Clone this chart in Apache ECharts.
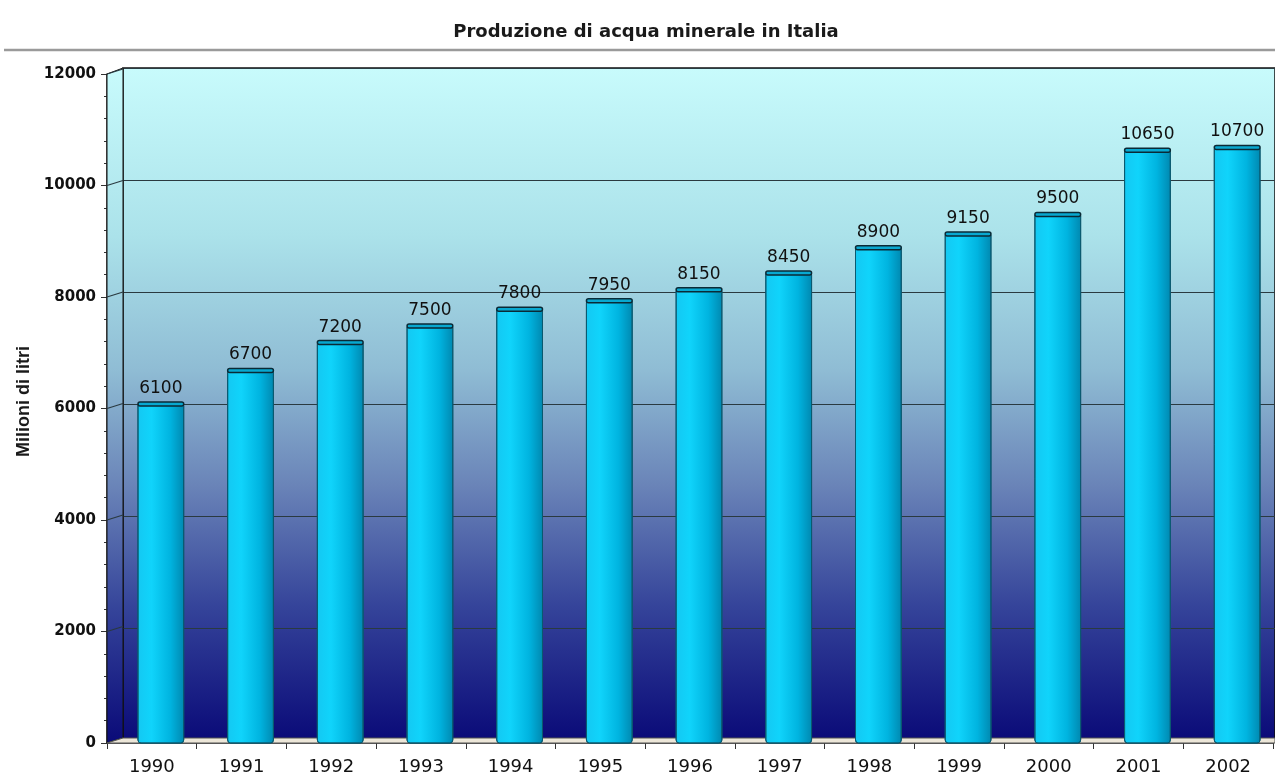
<!DOCTYPE html>
<html><head><meta charset="utf-8">
<script src="https://cdn.jsdelivr.net/npm/echarts@6/dist/echarts.min.js"></script>
<style>html,body{margin:0;padding:0;background:#fff}#c{width:1275px;height:776px}</style>
</head><body><div id="c"></div>
<script>
const years = ['1990','1991','1992','1993','1994','1995','1996','1997','1998','1999','2000','2001','2002'];
const production = [6100,6700,7200,7500,7800,7950,8150,8450,8900,9150,9500,10650,10700];
const yTicks = [0,2000,4000,6000,8000,10000,12000];
const titleText = 'Produzione di acqua minerale in Italia';
const yName = 'Milioni di litri';

const FONT = 'DejaVu Sans';
const chart = echarts.init(document.getElementById('c'));
function wallGrad(){
  return new echarts.graphic.LinearGradient(0,0,0,1,[
    {offset:0,color:'#c8fbfc'},
    {offset:0.25,color:'#abe2ea'},
    {offset:0.45,color:'#8fbcd4'},
    {offset:0.62,color:'#6a84b8'},
    {offset:0.8,color:'#35449a'},
    {offset:1,color:'#0a0a78'}
  ]);
}
function barGrad(){
  return new echarts.graphic.LinearGradient(0,0,1,0,[
    {offset:0,color:'#14c8f2'},
    {offset:0.3,color:'#10d4fb'},
    {offset:0.7,color:'#00b4e0'},
    {offset:1,color:'#0088b0'}
  ]);
}
const DX = 9; // 3D depth shift of bars

chart.setOption({
  animation:false,
  title:{text:titleText,left:641,top:18,textAlign:'center',
    textStyle:{fontFamily:FONT,fontSize:18,fontWeight:'bold',color:'#1a1a1a'}},
  grid:[
    {left:107,top:74,width:1166,height:671,show:false},
    {left:123,top:68,right:-10,bottom:36,show:true,backgroundColor:wallGrad(),borderColor:'#111',borderWidth:1.5}
  ],
  xAxis:[
    {type:'category',gridIndex:0,data:years,
     axisLine:{lineStyle:{color:'#222',width:1.5}},
     axisTick:{show:true,length:6,lineStyle:{color:'#333'}},
     axisLabel:{fontFamily:FONT,fontSize:18,color:'#111',margin:15}},
    {type:'category',gridIndex:1,data:years,show:false}
  ],
  yAxis:[
    {type:'value',gridIndex:0,min:0,max:12000,interval:2000,
     name:yName,nameLocation:'middle',nameGap:73,
     nameTextStyle:{fontFamily:'Liberation Sans',fontSize:18,fontWeight:'bold',color:'#1a1a1a',padding:[0,0,0,14]},
     axisLine:{show:true,lineStyle:{color:'#222',width:1.5}},
     axisTick:{show:true,length:6,lineStyle:{color:'#333'}},
     minorTick:{show:true,splitNumber:5,length:3,lineStyle:{color:'#333'}},
     splitLine:{show:false},
     axisLabel:{fontFamily:FONT,fontSize:15,fontWeight:'bold',color:'#111',margin:11,
       formatter:function(v){return String(v);}}},
    {type:'value',gridIndex:1,min:0,max:12000,interval:2000,
     axisLine:{show:false},axisTick:{show:false},axisLabel:{show:false},
     splitLine:{show:true,lineStyle:{color:'#2a3a40',width:1.2}}}
  ],
  series:[{
    type:'custom',xAxisIndex:0,yAxisIndex:0,
    data:production.map((v,i)=>[i,v]),
    renderItem:function(params,api){
      const i=api.value(0), v=api.value(1);
      const top=api.coord([i,v]), base=api.coord([i,0]);
      const w=api.size([1,0])[0]*0.51;
      const x=top[0]+DX-w/2;
      return {type:'group',children:[
        {type:'rect',shape:{x:x,y:top[1],width:w,height:base[1]-top[1],r:3},
         style:{fill:barGrad(),stroke:'#0a5a70',lineWidth:1}},
        {type:'rect',shape:{x:x,y:top[1]-1,width:w,height:4,r:2},
         style:{fill:'#08a8d0',stroke:'#0a2a36',lineWidth:1.5}},
        {type:'text',style:{text:String(v),x:top[0]+DX,y:top[1]-6,
          align:'center',verticalAlign:'bottom',
          font:'17px "'+FONT+'"',fill:'#111'}}
      ]};
    },
    z:5
  }]
});

// title rule, left side wall and floor decoration, positioned from the axes
const g = [];
const leftFront = 107, leftBack = 123, depthY = 5;
const y0 = chart.convertToPixel({yAxisIndex:0},0);
const y12 = chart.convertToPixel({yAxisIndex:0},12000);
g.push({type:'line',shape:{x1:4,y1:50,x2:1275,y2:50},style:{stroke:'#9a9a9a',lineWidth:2.5},z:1});
g.push({type:'polygon',shape:{points:[[leftFront,y0],[leftFront,y12],[leftBack,y12-6],[leftBack,y0-depthY]]},
  style:{fill:wallGrad(),stroke:'#111',lineWidth:1},z:2});
yTicks.forEach(t=>{
  const y=chart.convertToPixel({yAxisIndex:0},t);
  g.push({type:'line',shape:{x1:leftFront,y1:y,x2:leftBack,y2:y-depthY},style:{stroke:'#2a3a40',lineWidth:1.2},z:3});
});
g.push({type:'polygon',shape:{points:[[leftFront,y0],[leftBack,y0-depthY],[1275,y0-depthY],[1275,y0]]},
  style:{fill:'#ece6d8',stroke:'#555',lineWidth:1},z:3});
chart.setOption({graphic:g});
</script></body></html>
